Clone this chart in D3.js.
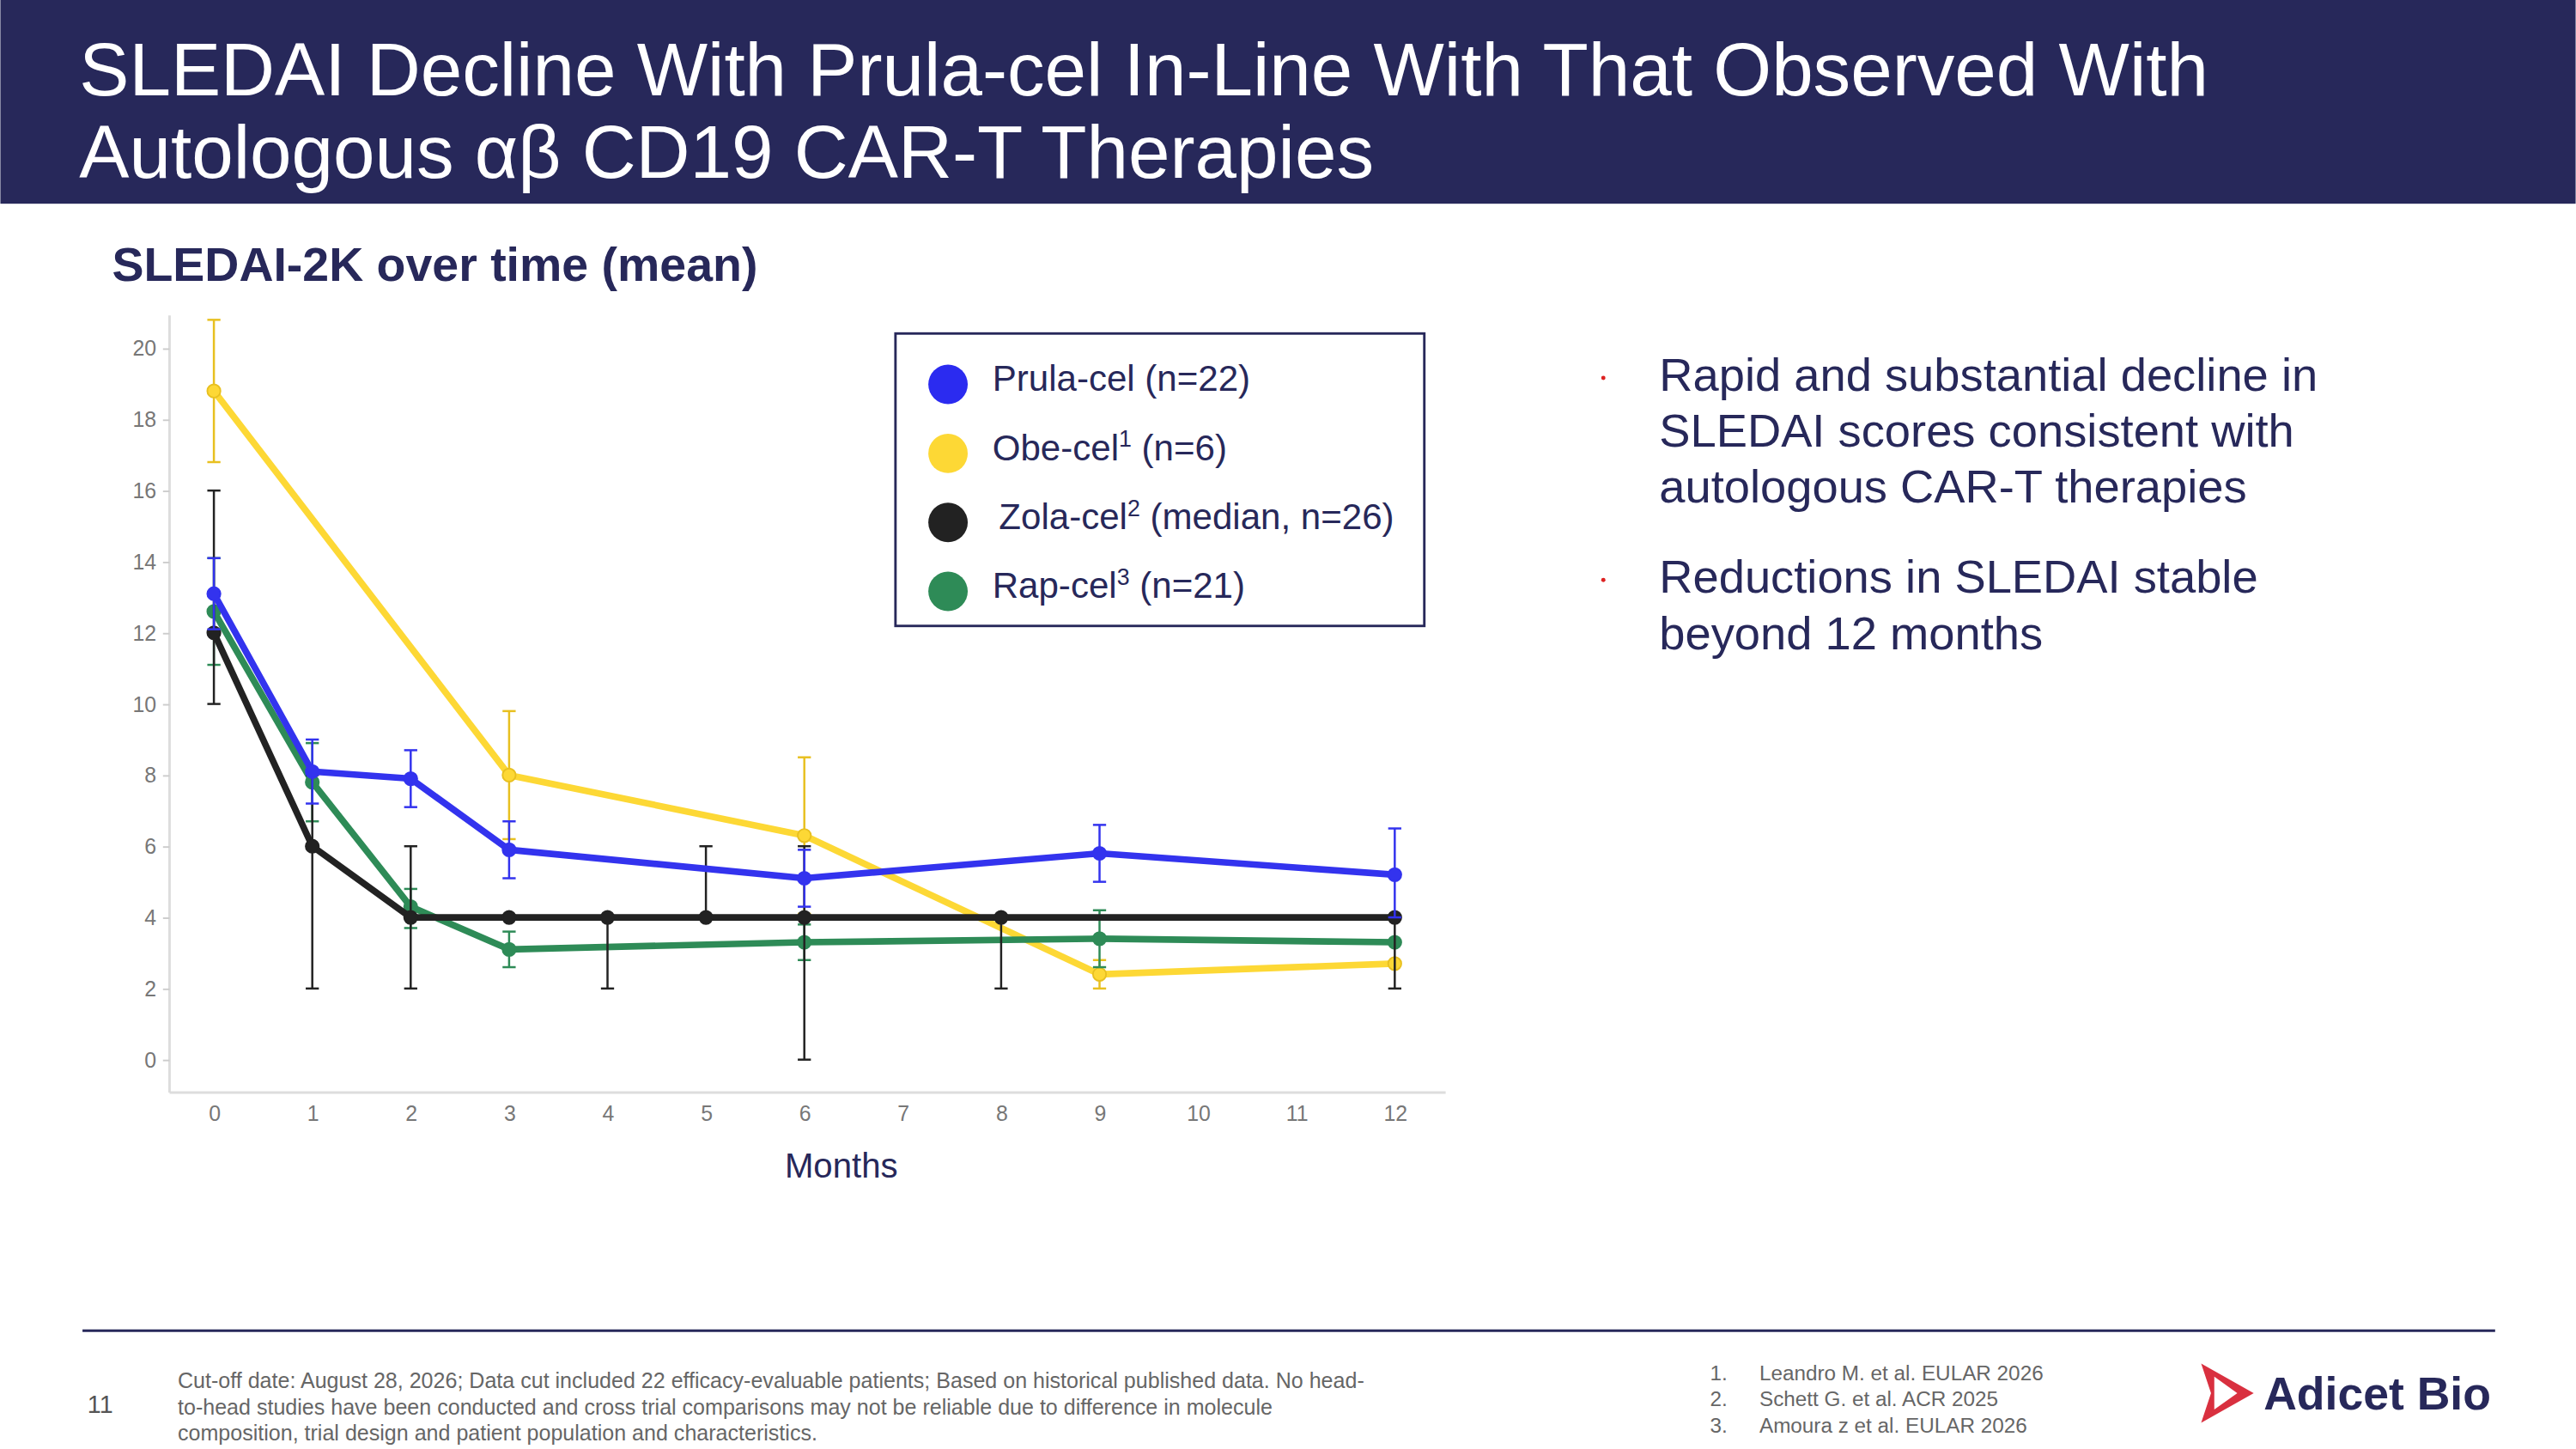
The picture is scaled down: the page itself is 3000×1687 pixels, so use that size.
<!DOCTYPE html>
<html><head><meta charset="utf-8">
<script src="https://cdn.jsdelivr.net/npm/d3@7"></script>
<style>body{margin:0;background:#fff}svg{display:block}</style></head>
<body><svg id="c" width="3000" height="1687" viewBox="0 0 1568 882"></svg>
<script>
const months=[0,1,2,3,4,5,6,7,8,9,10,11,12];
const yTicks=[0,2,4,6,8,10,12,14,16,18,20];
const prulaX=[0,1,2,3,6,9,12], prulaY=[13.1,8.1,7.9,5.9,5.1,5.8,5.2];
const prulaLo=[12.1,7.2,7.1,5.1,4.3,5.0,4.0], prulaHi=[14.1,9.0,8.7,6.7,5.9,6.6,6.5];
const obeX=[0,3,6,9,12], obeY=[18.8,8.0,6.3,2.4,2.7];
const obeLo=[16.8,6.2,4.1,2.0,2.7], obeHi=[20.8,9.8,8.5,2.8,2.7];
const zolaX=[0,1,2,3,4,5,6,8,12], zolaY=[12,6,4,4,4,4,4,4,4];
const zolaLo=[10,2,2,4,2,4,0,2,2], zolaHi=[16,8,6,4,4,6,6,4,4];
const rapX=[0,1,2,3,6,9,12], rapY=[12.6,7.8,4.3,3.1,3.3,3.4,3.3];
const rapLo=[11.1,6.7,3.7,2.6,2.8,2.6,3.3], rapHi=[14.1,8.9,4.8,3.6,3.8,4.2,3.3];

const svg=d3.select("#c"), F="Liberation Sans, Arial, sans-serif", navy="#27285a";
svg.append("rect").attr("width",1568).attr("height",124).attr("fill",navy);
const t=svg.append("text").attr("font-family",F).attr("font-size",45.6).attr("fill","#fff");
t.append("tspan").attr("x",48).attr("y",58).text("SLEDAI Decline With Prula-cel In-Line With That Observed With");
t.append("tspan").attr("x",48).attr("y",108).text("Autologous αβ CD19 CAR-T Therapies");
svg.append("text").attr("x",68).attr("y",171).attr("font-family",F).attr("font-weight","bold").attr("font-size",29).attr("fill",navy).text("SLEDAI-2K over time (mean)");

const x=d3.scaleLinear().domain([0,12]).range([130,849]);
const y=d3.scaleLinear().domain([0,20]).range([645,212]);
const g=svg.append("g");
const ax=g.append("g").attr("transform","translate(0,665)").call(d3.axisBottom(x).tickValues(months).tickSize(0).tickPadding(8));
ax.select(".domain").attr("d","M103,0H880").attr("stroke","#ddd").attr("stroke-width",1.5);
const ay=g.append("g").attr("transform","translate(103,0)").call(d3.axisLeft(y).tickValues(yTicks).tickSize(4).tickPadding(4));
ay.select(".domain").attr("d","M0,192V665").attr("stroke","#ddd").attr("stroke-width",1.5);
ay.selectAll(".tick line").attr("stroke","#ccc");
g.selectAll(".tick text").attr("font-family",F).attr("font-size",13).attr("fill","#777");
svg.append("text").attr("x",512).attr("y",717).attr("text-anchor","middle").attr("font-family",F).attr("font-size",21).attr("fill",navy).text("Months");

function series(X,Y,Lo,Hi,col,ecol,w){
  const gg=svg.append("g");
  X.forEach((m,i)=>{ if(Lo[i]===Hi[i]) return;
    const e=gg.append("g").attr("stroke",ecol).attr("stroke-width",1.3);
    e.append("line").attr("x1",x(m)).attr("x2",x(m)).attr("y1",y(Lo[i])).attr("y2",y(Hi[i]));
    [Lo[i],Hi[i]].forEach(v=>e.append("line").attr("x1",x(m)-4).attr("x2",x(m)+4).attr("y1",y(v)).attr("y2",y(v)));
  });
  gg.append("path").attr("d",d3.line().x((d,i)=>x(X[i])).y(d=>y(d))(Y)).attr("fill","none").attr("stroke",col).attr("stroke-width",w).attr("stroke-linejoin","round");
  gg.selectAll("circle").data(Y).join("circle").attr("cx",(d,i)=>x(X[i])).attr("cy",d=>y(d)).attr("r",4).attr("fill",col).attr("stroke",ecol).attr("stroke-width",1);
}
series(obeX,obeY,obeLo,obeHi,"#fdd835","#e8c020",4);
series(rapX,rapY,rapLo,rapHi,"#2e8b57","#2e8b57",4);
series(zolaX,zolaY,zolaLo,zolaHi,"#222","#222",4);
series(prulaX,prulaY,prulaLo,prulaHi,"#3333ee","#3333ee",4);

svg.append("rect").attr("x",545).attr("y",203).attr("width",322).attr("height",178).attr("fill","#fff").attr("stroke",navy).attr("stroke-width",1.5);
const lc=["#2b2bf0","#fdd835","#222","#2e8b57"];
const leg=[["Prula-cel (n=22)",""],["Obe-cel","1"," (n=6)"],["Zola-cel","2"," (median, n=26)"],["Rap-cel","3"," (n=21)"]];
leg.forEach((l,i)=>{const yy=232+i*42;
  svg.append("circle").attr("cx",577).attr("cy",yy+2).attr("r",12).attr("fill",lc[i]);
  const tx=svg.append("text").attr("x",i==2?608:604).attr("y",yy+6).attr("font-family",F).attr("font-size",22).attr("fill",navy);
  tx.append("tspan").text(l[0]);
  if(l[1]){tx.append("tspan").attr("font-size",14).attr("dy",-8).text(l[1]);tx.append("tspan").attr("dy",8).text(l[2]);}
});

const bullets=[["Rapid and substantial decline in","SLEDAI scores consistent with","autologous CAR-T therapies"],["Reductions in SLEDAI stable","beyond 12 months"]];
[238,361].forEach((y0,b)=>{
  svg.append("circle").attr("cx",976).attr("cy",y0-8).attr("r",1.3).attr("fill","#d22");
  bullets[b].forEach((s,j)=>svg.append("text").attr("x",1010).attr("y",y0+j*34).attr("font-family",F).attr("font-size",28.4).attr("fill",navy).text(s));
});

svg.append("line").attr("x1",50).attr("x2",1519).attr("y1",810).attr("y2",810).attr("stroke",navy).attr("stroke-width",1.5);
svg.append("text").attr("x",53).attr("y",860).attr("font-family",F).attr("font-size",15).attr("fill","#555").text("11");
["Cut-off date: August 28, 2026; Data cut included 22 efficacy-evaluable patients; Based on historical published data. No head-","to-head studies have been conducted and cross trial comparisons may not be reliable due to difference in molecule","composition, trial design and patient population and characteristics."].forEach((s,i)=>
  svg.append("text").attr("x",108).attr("y",845+i*16).attr("font-family",F).attr("font-size",13.1).attr("fill","#666").text(s));
["Leandro M. et al. EULAR 2026","Schett G. et al. ACR 2025","Amoura z et al. EULAR 2026"].forEach((s,i)=>{
  svg.append("text").attr("x",1041).attr("y",840+i*16).attr("font-family",F).attr("font-size",12.7).attr("fill","#666").text((i+1)+".");
  svg.append("text").attr("x",1071).attr("y",840+i*16).attr("font-family",F).attr("font-size",12.7).attr("fill","#666").text(s);
});
svg.append("path").attr("d","M1340,830 L1372,848 L1340,866 L1346,848 Z").attr("fill","#d9303f");
svg.append("path").attr("d","M1348,838 L1362,848 L1348,858 Z").attr("fill","#fff");
svg.append("text").attr("x",1378).attr("y",858).attr("font-family",F).attr("font-weight","bold").attr("font-size",28).attr("fill",navy).text("Adicet Bio");
</script></body></html>
